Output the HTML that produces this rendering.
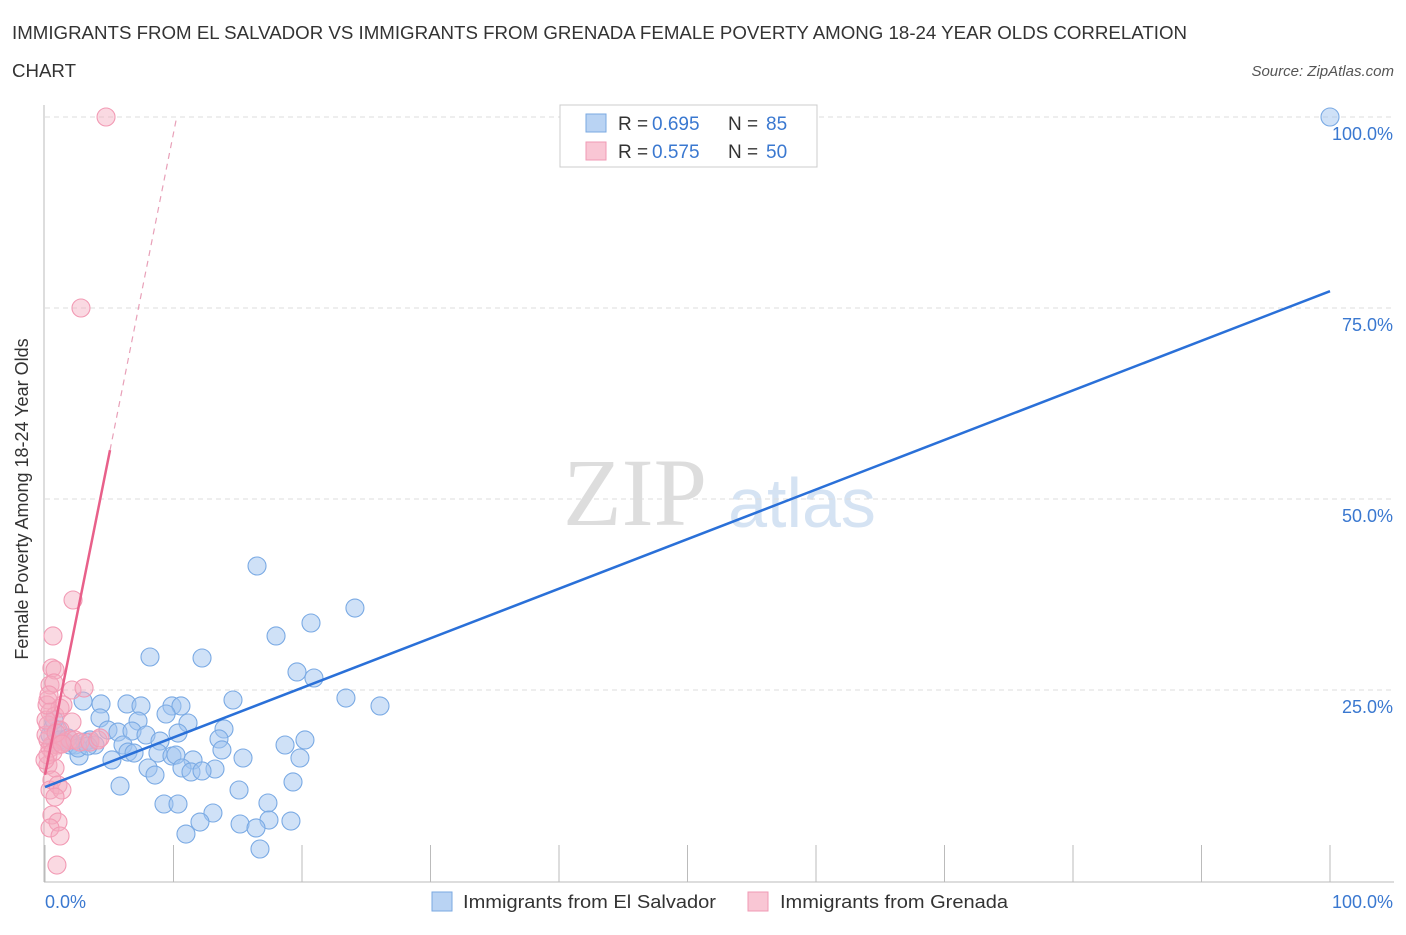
<!DOCTYPE html>
<html><head><meta charset="utf-8"><style>
body{margin:0;background:#fff;font-family:"Liberation Sans",sans-serif}
</style></head><body>
<svg width="1406" height="930" xmlns="http://www.w3.org/2000/svg" font-family="Liberation Sans, sans-serif">
<text x="12" y="39" font-size="18" fill="#333" textLength="1175" lengthAdjust="spacingAndGlyphs">IMMIGRANTS FROM EL SALVADOR VS IMMIGRANTS FROM GRENADA FEMALE POVERTY AMONG 18-24 YEAR OLDS CORRELATION</text>
<text x="12" y="77" font-size="18" fill="#333" textLength="64" lengthAdjust="spacingAndGlyphs">CHART</text>
<text x="1394" y="76" font-size="15" fill="#555" font-style="italic" text-anchor="end">Source: ZipAtlas.com</text>
<text x="635" y="525" font-size="96" fill="#ddd" font-family="Liberation Serif, serif" text-anchor="middle">ZIP</text>
<text x="802" y="527" font-size="70" fill="#d5e3f3" text-anchor="middle">atlas</text>
<g id="grid"></g>
<line x1="44" y1="105" x2="44" y2="882" stroke="#bbb"/>
<line x1="44" y1="882" x2="1394" y2="882" stroke="#bbb"/>
<text x="22" y="493" font-size="18" fill="#333" text-anchor="middle" transform="rotate(-90 28 493)">Female Poverty Among 18-24 Year Olds</text>
<text x="45" y="908" font-size="18" fill="#3a78d0">0.0%</text>
<text x="1393" y="908" font-size="18" fill="#3a78d0" text-anchor="end">100.0%</text>
<g id="pts"></g>
<g id="lines"></g>
<g>
<rect x="560" y="105" width="257" height="62" fill="#fff" stroke="#ccc"/>
<rect x="586" y="114" width="20" height="18" fill="#b9d3f3" stroke="#7aa8e2"/>
<rect x="586" y="142" width="20" height="18" fill="#f9c6d4" stroke="#f09ab4"/>
<text x="618" y="130" font-size="19" fill="#333">R =</text>
<text x="652" y="130" font-size="19" fill="#3a78d0">0.695</text>
<text x="728" y="130" font-size="19" fill="#333">N =</text>
<text x="766" y="130" font-size="19" fill="#3a78d0">85</text>
<text x="618" y="158" font-size="19" fill="#333">R =</text>
<text x="652" y="158" font-size="19" fill="#3a78d0">0.575</text>
<text x="728" y="158" font-size="19" fill="#333">N =</text>
<text x="766" y="158" font-size="19" fill="#3a78d0">50</text>
</g>
<g>
<rect x="432" y="892" width="20" height="19" fill="#b9d3f3" stroke="#7aa8e2"/>
<text x="463" y="908" font-size="18" fill="#333" textLength="253" lengthAdjust="spacingAndGlyphs">Immigrants from El Salvador</text>
<rect x="748" y="892" width="20" height="19" fill="#f9c6d4" stroke="#f09ab4"/>
<text x="780" y="908" font-size="18" fill="#333" textLength="228" lengthAdjust="spacingAndGlyphs">Immigrants from Grenada</text>
</g>
</svg>
<script>
const yTicks=[25,50,75,100];
const yTickLabels=["25.0%","50.0%","75.0%","100.0%"];
const xTicks=[0,10,20,30,40,50,60,70,80,90,100];
const bluePx=[[257,566],[355,608],[311,623],[276,636],[150,657],[202,658],[297,672],[314,678],[346,698],[380,706],[233,700],[83,701],[101,704],[127,704],[141,706],[172,706],[181,706],[166,714],[100,718],[188,723],[138,721],[224,729],[108,730],[118,732],[132,731],[146,735],[178,733],[219,739],[305,740],[285,745],[160,741],[123,745],[75,745],[62,741],[90,740],[70,745],[55,742],[50,735],[53,728],[54,720],[222,750],[128,752],[134,753],[158,753],[172,756],[176,755],[193,760],[243,758],[300,758],[79,756],[112,760],[148,768],[155,775],[182,768],[191,772],[215,769],[202,771],[120,786],[239,790],[293,782],[164,804],[178,804],[268,803],[213,813],[200,822],[240,824],[269,820],[291,821],[186,834],[256,828],[260,849],[1330,117],[60,740],[65,742],[85,742],[95,745],[58,730],[68,738],[78,748],[88,746]];
const pinkPx=[[106,117],[81,308],[73,600],[53,636],[52,668],[55,670],[50,685],[54,683],[72,690],[84,688],[48,700],[60,708],[50,712],[55,716],[48,725],[72,722],[60,730],[48,740],[52,745],[50,748],[58,745],[65,742],[70,740],[75,740],[80,742],[90,742],[98,740],[100,738],[48,765],[55,768],[52,780],[50,790],[58,785],[62,790],[55,797],[52,815],[58,822],[50,828],[60,836],[57,865],[48,755],[53,752],[46,735],[46,720],[63,705],[47,705],[49,695],[56,733],[62,744],[45,760]];
const blueX=bluePx.map(p=>+((p[0]-45)/12.85).toFixed(2));
const blueY=bluePx.map(p=>+((881-p[1])/7.64).toFixed(2));
const pinkX=pinkPx.map(p=>+((p[0]-45)/12.85).toFixed(2));
const pinkY=pinkPx.map(p=>+((881-p[1])/7.64).toFixed(2));
const blueFit=[12.3,77.2];
const pinkFit=[13.9,56.4,5.06];
const sx=v=>45+v*12.85, sy=v=>881-v*7.64;
const NS="http://www.w3.org/2000/svg";
function mk(tag,attrs,parent){const e=document.createElementNS(NS,tag);for(const k in attrs)e.setAttribute(k,attrs[k]);parent.appendChild(e);return e;}
const grid=document.getElementById('grid');
yTicks.forEach((t,i)=>{
 const l=mk('line',{x1:45,x2:1394,y1:sy(t),y2:sy(t),stroke:'#ddd','stroke-dasharray':'5,4'},grid);
 
 
 const tx=mk('text',{x:1393,y:sy(t)+23,'font-size':18,fill:'#3a78d0','text-anchor':'end'},grid);
 tx.textContent=yTickLabels[i];
 
 
});
xTicks.forEach(t=>{
 const l=mk('line',{x1:sx(t),x2:sx(t),y1:845,y2:882,stroke:'#bbb'},grid);
 
 
});
const pts=document.getElementById('pts');
blueX.forEach((x,i)=>{
 const c=mk('circle',{cx:sx(x),cy:sy(blueY[i]),r:9,fill:'rgba(160,196,240,0.5)',stroke:'#7aaae4','stroke-width':1.1},pts);
 
 
});
pinkX.forEach((x,i)=>{
 const c=mk('circle',{cx:sx(x),cy:sy(pinkY[i]),r:9,fill:'rgba(245,170,190,0.45)',stroke:'#f29ab4','stroke-width':1.1},pts);
 
 
});
const lines=document.getElementById('lines');
const bl=mk('line',{x1:sx(0),y1:sy(blueFit[0]),x2:sx(100),y2:sy(blueFit[1]),stroke:'#2a70d8','stroke-width':2.5},lines);


const slope=(pinkFit[1]-pinkFit[0])/pinkFit[2];
const pl=mk('line',{x1:sx(0),y1:sy(pinkFit[0]),x2:sx(pinkFit[2]),y2:sy(pinkFit[1]),stroke:'#e8608a','stroke-width':2.5},lines);


const xe=(100-pinkFit[0])/slope;
const pd=mk('line',{x1:sx(pinkFit[2]),y1:sy(pinkFit[1]),x2:sx(xe),y2:sy(100),stroke:'#e8a0b8','stroke-width':1.2,'stroke-dasharray':'6,5'},lines);


</script>
</body></html>
